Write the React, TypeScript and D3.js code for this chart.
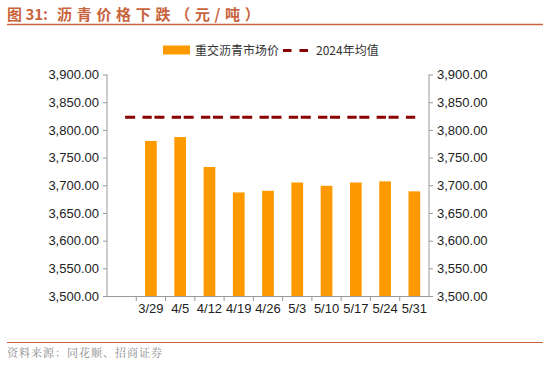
import React, { useEffect, useRef } from "react";
import * as d3 from "d3";

const categories = ["", "3/29", "4/5", "4/12", "4/19", "4/26", "5/3", "5/10", "5/17", "5/24", "5/31"];
const prices = [null, 3780, 3787, 3733, 3687, 3690, 3705, 3699, 3705, 3707, 3689];
const avg2024 = 3823;
const yTicks = [3500, 3550, 3600, 3650, 3700, 3750, 3800, 3850, 3900];

const App = () => {
  const svgRef = useRef<SVGSVGElement>(null);

  useEffect(() => {
    const svg = d3.select(svgRef.current);
    const width = 550;
    const height = 390;
    const margin = { top: 74.5, right: 121, bottom: 94, left: 107 };
    const font = "'Liberation Sans', Arial, sans-serif";
    const cjk = "'Noto Sans CJK SC', sans-serif";
    const titleColor = "#C8643C";

    svg.selectAll("*").remove();

    const x = d3
      .scaleBand()
      .domain(categories)
      .range([margin.left, width - margin.right])
      .paddingInner(0.6)
      .paddingOuter(0.3);

    const y = d3
      .scaleLinear()
      .domain([3500, 3900])
      .range([height - margin.bottom, margin.top]);

    // title
    const title = svg.append("text")
      .attr("y", 19.5)
      .attr("font-family", cjk)
      .attr("font-size", 15)
      .attr("font-weight", "bold")
      .attr("fill", titleColor);
    title.append("tspan").attr("x", 7).text("图 31:");
    title.append("tspan")
      .attr("x", 57)
      .attr("letter-spacing", 4.7)
      .text("沥青价格下跌（元/吨）");
    svg.append("line")
      .attr("x1", 7).attr("x2", 543)
      .attr("y1", 24.5).attr("y2", 24.5)
      .attr("stroke", titleColor)
      .attr("stroke-width", 1.5);

    // legend
    svg.append("rect")
      .attr("x", 163).attr("y", 45.5)
      .attr("width", 27).attr("height", 9)
      .attr("fill", "#FF9900");
    svg.append("text")
      .attr("x", 195).attr("y", 55)
      .attr("font-family", cjk)
      .attr("font-size", 12)
      .attr("fill", "#333")
      .text("重交沥青市场价");
    svg.append("line")
      .attr("x1", 283).attr("x2", 308)
      .attr("y1", 50.5).attr("y2", 50.5)
      .attr("stroke", "#8B0000")
      .attr("stroke-width", 3)
      .attr("stroke-dasharray", "8.5,8");
    svg.append("text")
      .attr("x", 316).attr("y", 55)
      .attr("font-family", cjk)
      .attr("font-size", 12)
      .attr("fill", "#333")
      .text("2024年均值");

    // left axis
    const left = svg.append("g")
      .attr("transform", `translate(${margin.left},0)`)
      .call(
        d3.axisLeft(y)
          .tickValues(yTicks)
          .tickSize(4)
          .tickPadding(4)
          .tickFormat(d3.format(",.2f"))
      );

    // right axis
    const right = svg.append("g")
      .attr("transform", `translate(${width - margin.right},0)`)
      .call(
        d3.axisRight(y)
          .tickValues(yTicks)
          .tickSize(4)
          .tickPadding(4)
          .tickFormat(d3.format(",.2f"))
      );

    // bottom axis: ticks at band boundaries
    const step = x.step();
    const x0 = margin.left;
    const bottom = svg.append("g")
      .attr("transform", `translate(0,${height - margin.bottom})`);
    bottom.append("line")
      .attr("x1", x0).attr("x2", width - margin.right)
      .attr("y1", 0.5).attr("y2", 0.5)
      .attr("stroke", "#999");
    categories.forEach((c, i) => {
      if (i > 0) {
        bottom.append("line")
          .attr("x1", x0 + i * step).attr("x2", x0 + i * step)
          .attr("y1", 0).attr("y2", 5)
          .attr("stroke", "#999");
      }
      bottom.append("text")
        .attr("x", (x(c) as number) + x.bandwidth() / 2)
        .attr("y", 17)
        .attr("text-anchor", "middle")
        .attr("font-family", font)
        .attr("font-size", 13)
        .attr("fill", "#222")
        .text(c);
    });

    [left, right].forEach((g) => {
      g.selectAll("path,line").attr("stroke", "#999");
      g.selectAll("text")
        .attr("font-family", font)
        .attr("font-size", 13)
        .attr("fill", "#222");
      g.select(".domain").attr("d", `M0,${y(3500)}V${y(3900)}`);
    });

    // bars
    svg.append("g")
      .selectAll("rect")
      .data(categories.map((c, i) => ({ c, v: prices[i] })).filter((d) => d.v !== null))
      .enter()
      .append("rect")
      .attr("x", (d) => x(d.c) as number)
      .attr("y", (d) => y(d.v as number))
      .attr("width", x.bandwidth())
      .attr("height", (d) => y(3500) - y(d.v as number))
      .attr("fill", "#FF9900");

    // average line (dashed per category segment)
    svg.append("line")
      .attr("x1", (x(categories[0]) as number) + x.bandwidth() / 2 + 3.5)
      .attr("x2", (x(categories[categories.length - 1]) as number) + x.bandwidth() / 2 + 1)
      .attr("y1", y(avg2024))
      .attr("y2", y(avg2024))
      .attr("stroke", "#8B0000")
      .attr("stroke-width", 3)
      .attr("stroke-dasharray", `10,7.3,9.3,${step - 26.6}`);

    // source
    svg.append("line")
      .attr("x1", 7).attr("x2", 543)
      .attr("y1", 342.5).attr("y2", 342.5)
      .attr("stroke", titleColor)
      .attr("stroke-width", 1);
    svg.append("text")
      .attr("x", 7).attr("y", 357)
      .attr("font-family", "'Noto Serif CJK SC', 'Noto Sans CJK SC', serif")
      .attr("font-size", 11)
      .attr("letter-spacing", 1)
      .attr("fill", "#888")
      .text("资料来源：同花顺、招商证券");
  }, []);

  return (
    <svg
      ref={svgRef}
      width={550}
      height={390}
      style={{ position: "absolute", left: 0, top: 0, background: "#fff" }}
    ></svg>
  );
};

export default App;
